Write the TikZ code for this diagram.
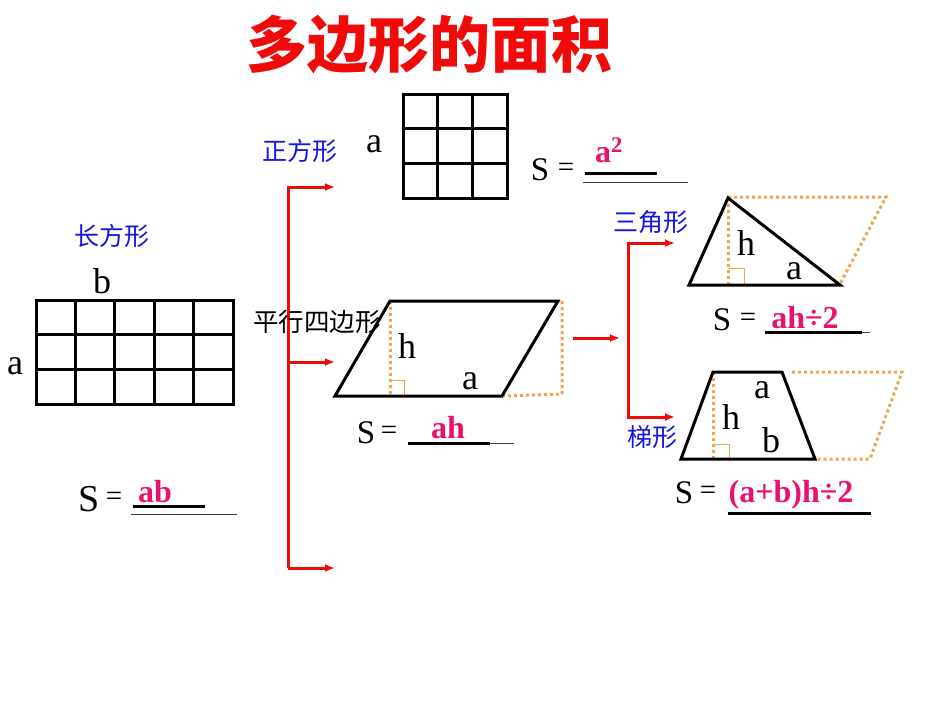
\documentclass[tikz,border=0pt]{standalone}
\usepackage{fontspec}
\setmainfont{Liberation Serif}
\newfontfamily\cjk{Noto Sans CJK SC}
\usetikzlibrary{arrows.meta}
\definecolor{rojo}{RGB}{240,10,10}
\definecolor{azul}{RGB}{20,20,225}
\definecolor{rosa}{RGB}{232,18,110}
\definecolor{naranja}{RGB}{240,165,80}

\begin{document}
\begin{tikzpicture}[x=1pt, y=-1pt,
    borde/.style={line width=3pt, line join=miter},
    punteado/.style={naranja, line width=3pt, dash pattern=on 3pt off 3pt},
    recto/.style={naranja, line width=0.8pt},
    flecha/.style={-{Latex[length=10pt, width=8pt]}, rojo, line width=3pt},
    letra/.style={inner sep=0pt, font=\fontsize{36}{36}\selectfont},
    ese/.style={inner sep=0pt, font=\fontsize{33}{33}\selectfont},
    igual/.style={inner sep=0pt, font=\fontsize{29}{29}\selectfont},
    formula/.style={inner sep=0pt, anchor=base, rosa, font=\bfseries\fontsize{32}{32}\selectfont},
    nombre/.style={inner sep=0pt, azul, font=\cjk\fontsize{25}{25}\selectfont},
    raya/.style={line width=3pt},
    rayita/.style={line width=0.9pt, black!75}]
    \useasboundingbox (0,0) rectangle (950,713);

    % Titulo
    \node[inner sep=0pt, rojo, font=\cjk\bfseries\fontsize{61}{61}\selectfont] (titulo) at (429,45) {多边形的面积};

    % Rectangulo
    \node[nombre] (n-rect) at (112,236) {长方形};
    \draw[borde] (36,300) rectangle (233,404);
    \foreach \i in {1,...,4} \draw[borde] ({36+\i*39.4},300) -- ({36+\i*39.4},404);
    \foreach \j in {1,2} \draw[borde] (36,{300+\j*34.67}) -- (233,{300+\j*34.67});
    \node[letra] (rect-b) at (102,281) {b};
    \node[letra] (rect-a) at (15,366) {a};
    \node[ese, font=\fontsize{38}{38}\selectfont] (rect-s) at (89,499) {S};
    \node[igual] (rect-eq) at (114,499) {=};
    \node[formula] (rect-f) at (155,502) {ab};
    \draw[rayita] (131,514) -- (237,514);
    \draw[raya] (133,506) -- (205,506);

    % Cuadrado
    \node[nombre] (n-cuad) at (300,151) {正方形};
    \draw[borde] (403,94) rectangle (507,198);
    \foreach \i in {1,2} {
        \draw[borde] ({403+\i*34.67},94) -- ({403+\i*34.67},198);
        \draw[borde] (403,{94+\i*34.67}) -- (507,{94+\i*34.67});
    }
    \node[letra] (cuad-a) at (374,144) {a};
    \node[ese] (cuad-s) at (540,170) {S};
    \node[igual] (cuad-eq) at (566,170) {=};
    \node[formula] (cuad-f) at (609,162) {a\textsuperscript{2}};
    \draw[rayita] (583,182) -- (688,182);
    \draw[raya] (585,173) -- (657,173);

    % Llave roja
    \coordinate (ll-arriba) at (288,187);
    \coordinate (ll-medio) at (288,362);
    \coordinate (ll-abajo) at (288,568);
    \coordinate (a-cuad) at (335,187);
    \coordinate (a-para) at (335,362);
    \coordinate (a-nada) at (335,568);
    \draw[flecha] (ll-abajo) -- (ll-arriba) -- (a-cuad);
    \draw[flecha] (ll-medio) -- (a-para);
    \draw[flecha] (ll-abajo) -- (a-nada);

    % Paralelogramo
    \node[inner sep=0pt, font=\cjk\fontsize{25.5}{25.5}\selectfont] (n-para) at (317,322) {平行四边形};
    \draw[punteado] (390,301) -- (390,396);
    \draw[punteado] (562,301) -- (562,394) -- (504,396);
    \draw[recto] (390,380) -| (404,396);
    \draw[borde] (335,396) -- (390,301) -- (558,301) -- (502,396) -- cycle;
    \node[letra] (para-h) at (407,346) {h};
    \node[letra] (para-a) at (470,381) {a};
    \node[ese] (para-s) at (366,433) {S};
    \node[igual] (para-eq) at (389,433) {=};
    \node[formula] (para-f) at (448,438) {ah};
    \draw[rayita] (408,443) -- (514,443);
    \draw[raya] (408,443) -- (490,443);

    % Segunda llave
    \coordinate (p-sale) at (573,338);
    \coordinate (p-llega) at (620,338);
    \coordinate (ll2-arriba) at (628,243);
    \coordinate (ll2-abajo) at (628,417);
    \coordinate (a-tri) at (675,243);
    \coordinate (a-trap) at (675,417);
    \draw[flecha] (p-sale) -- (p-llega);
    \draw[flecha] (ll2-abajo) -- (ll2-arriba) -- (a-tri);
    \draw[flecha] (ll2-arriba) -- (ll2-abajo) -- (a-trap);

    % Triangulo
    \node[nombre] (n-tri) at (651,222) {三角形};
    \draw[punteado] (728,198) -- (728,285);
    \draw[punteado] (728,197) -- (886,197) -- (840,284);
    \draw[recto] (728,268) -| (744,285);
    \draw[borde] (689,285) -- (728,198) -- (840,285) -- cycle;
    \node[letra] (tri-h) at (746,243) {h};
    \node[letra] (tri-a) at (794,271) {a};
    \node[ese] (tri-s) at (722,320) {S};
    \node[igual] (tri-eq) at (748,320) {=};
    \node[formula] (tri-f) at (805,328) {ah÷2};
    \draw[rayita] (765,332) -- (870,332);
    \draw[raya] (765,332) -- (862,332);

    % Trapecio
    \node[nombre] (n-trap) at (652,437) {梯形};
    \draw[punteado] (713,372) -- (713,459);
    \draw[punteado] (792,372) -- (902,372) -- (870,459) -- (815,459);
    \draw[recto] (713,444) -| (729,459);
    \draw[borde] (681,459) -- (713,372) -- (782,372) -- (815,459) -- cycle;
    \node[letra] (trap-a) at (762,390) {a};
    \node[letra] (trap-h) at (731,417) {h};
    \node[letra] (trap-b) at (771,440) {b};
    \node[ese] (trap-s) at (684,493) {S};
    \node[igual] (trap-eq) at (708,493) {=};
    \node[formula] (trap-f) at (791,502) {(a+b)h÷2};
    \draw[raya] (728,513) -- (871,513);

\end{tikzpicture}
\end{document}
